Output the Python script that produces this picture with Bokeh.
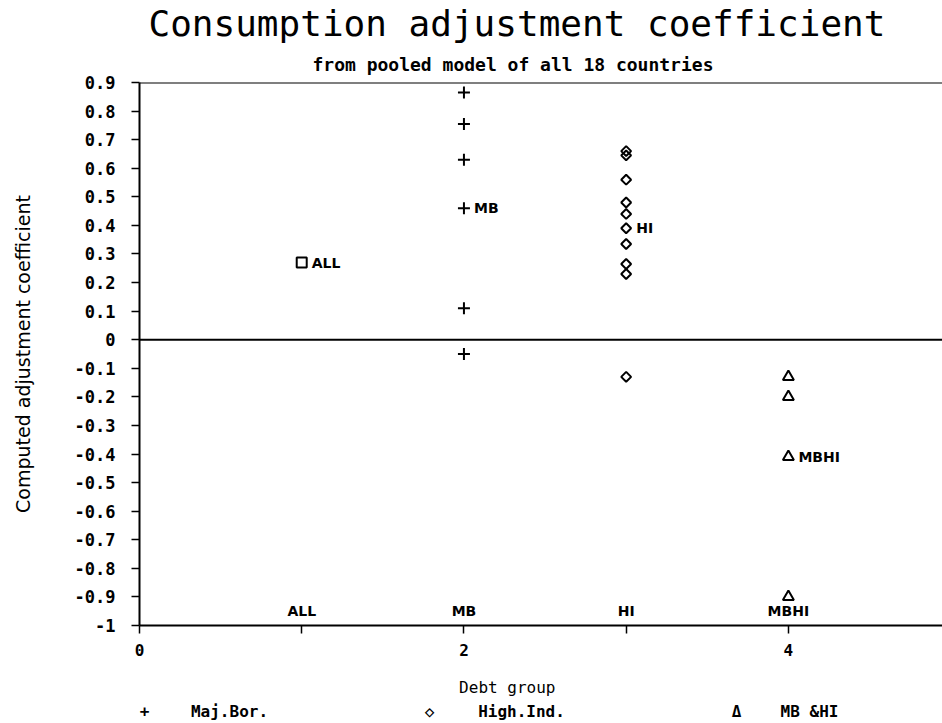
from bokeh.plotting import figure
from bokeh.models import (FixedTicker, CustomJSTickFormatter, Span, Range1d,
                          Title, LinearAxis)
from bokeh.core.properties import value
from bokeh.embed import file_html
from bokeh.resources import INLINE
import math

# ---------------- data ----------------
groups = ["ALL", "MB", "HI", "MBHI"]
group_x = [1, 2, 3, 4]
group_means = [0.27, 0.46, 0.39, -0.41]

mb_values = [0.865, 0.755, 0.63, 0.11, -0.05]
hi_values = [0.66, 0.645, 0.56, 0.48, 0.44, 0.335, 0.265, 0.23, -0.13]
mbhi_values = [-0.13, -0.20, -0.90]

x_ticks = [0, 2, 4]
x_minor_ticks = [1, 3]
y_ticks = [-1.0, -0.9, -0.8, -0.7, -0.6, -0.5, -0.4, -0.3, -0.2, -0.1,
           0.0, 0.1, 0.2, 0.3, 0.4, 0.5, 0.6, 0.7, 0.8, 0.9]

legend_symbols = ["+", "\u25c7", "\u0394"]
legend_labels = ["Maj.Bor.", "High.Ind.", "MB &HI"]

title_text = "Consumption adjustment coefficient"
subtitle_text = "from pooled model of all 18 countries"
x_label = "Debt group"
y_label = "Computed adjustment coefficient"

# ---------------- layout ----------------
W, H = 942, 723
LEFT, TOP, BOTTOM = 139, 82, 98
X0, X1 = 0, 4.95
Y0, Y1 = -1.0, 0.9
fh = H - TOP - BOTTOM

def dy(py):
    return Y1 - (py - TOP) / fh * (Y1 - Y0)

mono = "DejaVu Sans Mono"
sans = "DejaVu Sans"

p = figure(width=W, height=H, output_backend="svg", toolbar_location=None,
           x_range=Range1d(X0, X1), y_range=Range1d(Y0, Y1),
           min_border_left=LEFT, min_border_right=0,
           min_border_top=TOP, min_border_bottom=BOTTOM)
p.xgrid.visible = False
p.ygrid.visible = False
p.outline_line_color = None
p.background_fill_color = "white"
p.border_fill_color = "white"

# main title (outer) and subtitle (next to the frame)
p.title.text = title_text
p.title.align = "left"
p.title.offset = 9
p.title.text_font = mono
p.title.text_font_style = "normal"
p.title.text_font_size = "36px"
p.title.text_color = "black"
p.title.standoff = 0
p.add_layout(Title(text=subtitle_text, align="left", offset=173, text_font=mono,
                   text_font_style="bold", text_font_size="18px",
                   text_color="black", standoff=16), "above")

# x axis
xa = p.xaxis[0]
xa.ticker = FixedTicker(ticks=x_ticks, minor_ticks=x_minor_ticks)
xa.axis_line_width = 2
xa.axis_line_color = "black"
xa.major_tick_in = 0
xa.major_tick_out = 8
xa.minor_tick_in = 0
xa.minor_tick_out = 8
xa.major_tick_line_width = 1.5
xa.minor_tick_line_width = 1.5
xa.major_label_text_font = mono
xa.major_label_text_font_style = "bold"
xa.major_label_text_font_size = "16px"
xa.major_label_text_color = "black"
xa.major_label_standoff = 10
xa.axis_label = x_label + "\u00a0" * 7
xa.axis_label_text_font = mono
xa.axis_label_text_font_style = "normal"
xa.axis_label_text_font_size = "16px"
xa.axis_label_text_color = "black"
xa.axis_label_standoff = 19

# y axis
ya = p.yaxis[0]
ya.ticker = FixedTicker(ticks=y_ticks, minor_ticks=[])
ya.formatter = CustomJSTickFormatter(code="return String(Math.round(tick*10)/10);")
ya.axis_line_width = 2
ya.axis_line_color = "black"
ya.major_tick_in = 0
ya.major_tick_out = 8
ya.major_tick_line_width = 1.5
ya.minor_tick_line_color = None
ya.major_label_text_font = mono
ya.major_label_text_font_style = "bold"
ya.major_label_text_font_size = "17px"
ya.major_label_text_color = "black"
ya.major_label_standoff = 16
ya.axis_label = y_label
ya.axis_label_text_font = sans
ya.axis_label_text_font_style = "normal"
ya.axis_label_text_font_size = "19px"
ya.axis_label_text_color = "black"
ya.axis_label_standoff = 38

# legend row as an extra, line-less axis below (pixel-offset range)
p.extra_x_ranges = {"legend": Range1d(0, W - LEFT)}
leg_pos = [5, 90, 290, 382, 597, 670]          # offsets from frame left
leg_text = [legend_symbols[0], legend_labels[0],
            legend_symbols[1], legend_labels[1],
            legend_symbols[2], legend_labels[2]]
leg_axis = LinearAxis(x_range_name="legend",
                      ticker=FixedTicker(ticks=leg_pos, minor_ticks=[]),
                      major_label_overrides=dict(zip(leg_pos, leg_text)))
leg_axis.axis_line_color = None
leg_axis.major_tick_line_color = None
leg_axis.minor_tick_line_color = None
leg_axis.major_tick_out = 0
leg_axis.major_tick_in = 0
leg_axis.major_label_standoff = 2
leg_axis.major_label_text_font = mono
leg_axis.major_label_text_font_style = "bold"
leg_axis.major_label_text_font_size = "16px"
leg_axis.major_label_text_color = "black"
p.add_layout(leg_axis, "below")

# reference lines
p.add_layout(Span(location=0.9, dimension="width", line_color="black", line_width=2))
p.add_layout(Span(location=0.0, dimension="width", line_color="black", line_width=2))

# data marks
p.scatter(x=[2] * len(mb_values), y=mb_values, marker="cross", size=12,
          line_color="black", line_width=2)
p.scatter(x=[3] * len(hi_values), y=hi_values, marker="square", angle=math.pi / 4,
          size=7, line_color="black", line_width=2, fill_color=None)
p.scatter(x=[4] * len(mbhi_values), y=mbhi_values, marker="triangle", size=11,
          line_color="black", line_width=2, fill_color=None)

# group means
mean_markers = ["square", "cross", "square", "triangle"]
mean_sizes = [10, 12, 7, 11]
mean_angles = [0, 0, math.pi / 4, 0]
for gx, gm, mk, sz, an in zip(group_x, group_means, mean_markers, mean_sizes, mean_angles):
    p.scatter(x=[gx], y=[gm], marker=mk, size=sz, angle=an,
              line_color="black", line_width=2, fill_color=None)

p.text(x=group_x, y=group_means, text=groups, x_offset=10,
       text_baseline="middle", text_align="left",
       text_font=value(sans), text_font_style="bold", text_font_size="14px",
       text_color="black")

# group names along the bottom
p.text(x=group_x, y=dy(610), text=groups,
       text_baseline="middle", text_align="center",
       text_font=value(sans), text_font_style="bold", text_font_size="14px",
       text_color="black")

open("out.html", "w").write(file_html(p, INLINE))
